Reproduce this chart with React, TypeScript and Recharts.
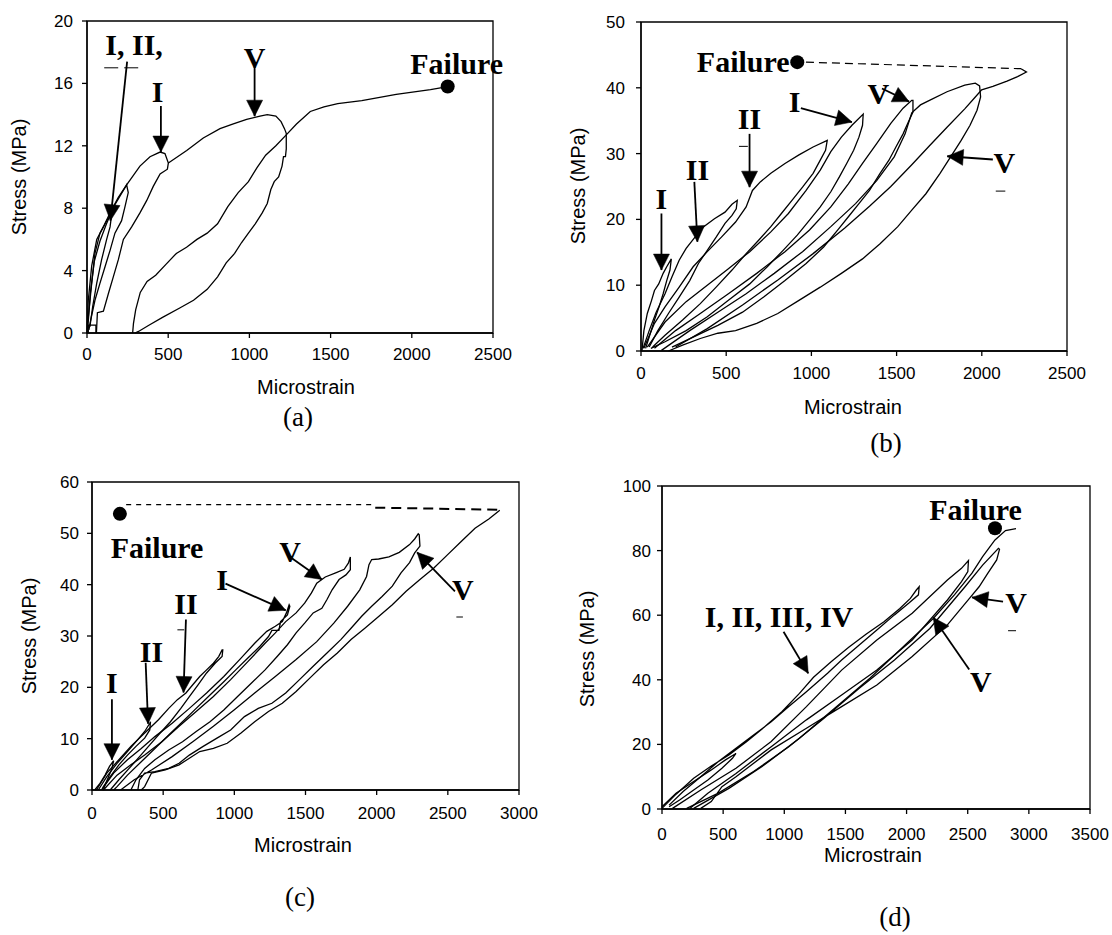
import React from 'react';
import { ComposedChart, Line, XAxis, YAxis, ReferenceArea } from 'recharts';

type Pt = { x: number; y: number };
type Lbl = { x: number; y: number; text: string };
type Seg = { x1: number; y1: number; x2: number; y2: number };

const p = (arr: number[][]): Pt[] => arr.map(([x, y]) => ({ x, y }));

// ---------------- (a) ----------------
const aXTicks = [0, 500, 1000, 1500, 2000, 2500];
const aYTicks = [0, 4, 8, 12, 16, 20];
const aCycle1 = p([[8,1.0],[29,3.2],[49,5.1],[80,6.4],[121,7.2],[152,7.6],[142,6.8],[121,6.0],[90,4.7],[60,3.2],[35,1.7],[18,0.4]]);
const aCycle2 = p([[5,0.3],[20,2.5],[45,4.6],[80,5.9],[120,7.0],[170,8.2],[210,8.9],[244,9.5],[254,9.0],[234,8.1],[213,7.2],[172,6.4],[142,5.3],[111,4.25],[80,3.2],[49,2.1],[23,0.85],[12,0.2]]);
const aCycle3 = p([[0,0],[8,2.1],[29,4.3],[60,6.0],[101,6.8],[142,7.7],[193,8.7],[244,9.5],[326,10.7],[388,11.3],[450,11.6],[480,11.5],[501,10.9],[495,10.5],[450,10.2],[408,9.4],[368,8.5],[326,7.7],[275,6.8],[224,6.0],[193,4.7],[162,3.6],[131,2.5],[101,1.4],[64,1.3],[58,0]]);
const aCycle4 = p([[501,10.9],[614,11.7],[716,12.5],[819,13.1],[901,13.4],[983,13.7],[1065,13.9],[1110,14.0],[1163,13.9],[1195,13.55],[1216,13.1],[1227,12.8],[1227,11.8],[1222,11.3],[1210,11.3],[1201,10.7],[1180,10.0],[1153,9.7],[1132,9.2],[1110,8.3],[1079,7.7],[1036,7.0],[994,6.4],[952,5.8],[909,5.1],[857,4.5],[804,3.6],[740,2.8],[656,2.1],[571,1.6],[465,1.0],[381,0.5],[317,0.1],[296,0]]);
const aFinal = p([[281,0],[286,0.6],[300,1.5],[328,2.6],[370,3.3],[423,3.7],[486,4.4],[550,5.1],[613,5.5],[677,6.0],[740,6.4],[804,7.0],[867,8.1],[931,9.0],[994,9.7],[1047,10.6],[1100,11.4],[1163,12.0],[1227,12.7],[1290,13.4],[1375,14.2],[1459,14.5],[1544,14.7],[1692,14.9],[1904,15.3],[2115,15.6],[2221,15.8]]);
const aStep = p([[8,0],[8,0.5],[55,0.5],[55,0]]);
const aLabels: Lbl[] = [
  { x: 290, y: 17.8, text: 'I, II,' },
  { x: 434, y: 14.8, text: 'I' },
  { x: 1032, y: 17.0, text: 'V' },
  { x: 2276, y: 16.6, text: 'Failure' },
];
const aArrows: Seg[] = [
  { x1: 247, y1: 17.4, x2: 144, y2: 7.2 },
  { x1: 455, y1: 14.55, x2: 455, y2: 11.6 },
  { x1: 1032, y1: 17.1, x2: 1032, y2: 13.9 },
];
const aDashes: Seg[] = [{ x1: 106, y1: 17.0, x2: 328, y2: 17.0 }];
const aFailure: Pt = { x: 2221, y: 15.8 };

// ---------------- (b) ----------------
const bXTicks = [0, 500, 1000, 1500, 2000, 2500];
const bYTicks = [0, 10, 20, 30, 40, 50];
const bCycle1 = p([[6,0.1],[17,3.1],[37,5.7],[62,7.7],[79,9.2],[104,10.2],[130,11.8],[151,12.8],[178,14.0],[170,12.3],[151,10.7],[130,8.7],[106,6.7],[79,4.7],[48,2.1],[27,0.4]]);
const bCycle2 = p([[12,0.4],[48,3.1],[89,5.9],[141,8.7],[182,11.3],[224,13.8],[265,15.6],[317,17.3],[368,18.9],[431,20.1],[493,21.1],[534,22.3],[565,22.9],[559,21.6],[534,20.6],[493,19.4],[441,17.3],[389,15.3],[337,13.3],[286,10.7],[224,8.2],[161,5.7],[99,3.1],[48,0.6]]);
const bCycle3 = p([[17,0.4],[79,4.2],[141,6.7],[224,9.7],[306,12.8],[389,15.1],[472,17.3],[555,19.6],[617,21.9],[654,24.4],[700,25.7],[762,27.0],[845,28.5],[927,29.8],[1010,31.0],[1093,32.0],[1083,30.5],[1052,29.0],[1010,27.0],[948,24.9],[886,22.9],[824,20.9],[762,18.9],[689,16.8],[617,14.8],[534,12.3],[441,9.7],[348,7.2],[244,4.7],[141,2.4],[68,0.6]]);
const bCycle4 = p([[37,0.6],[141,4.4],[265,7.5],[389,10.0],[513,12.5],[638,15.1],[762,18.1],[865,20.9],[969,24.4],[1052,27.5],[1114,30.3],[1176,32.5],[1238,34.3],[1304,36.0],[1300,34.3],[1279,32.5],[1248,30.5],[1207,28.5],[1165,26.5],[1114,24.2],[1052,21.9],[989,19.9],[917,17.6],[834,15.3],[741,12.8],[638,10.2],[513,7.7],[389,5.2],[265,3.1],[141,1.4],[58,0.4]]);
const bCycle5 = p([[79,0.4],[203,3.1],[348,5.7],[513,8.7],[679,11.8],[845,15.1],[989,18.4],[1114,21.9],[1217,25.4],[1300,28.5],[1383,31.5],[1466,34.6],[1538,36.9],[1589,38.1],[1596,38.1],[1596,36.3],[1569,34.8],[1538,33.0],[1496,31.0],[1455,29.0],[1403,27.0],[1341,24.4],[1279,22.4],[1217,20.4],[1155,18.4],[1072,15.8],[969,13.3],[845,10.7],[720,8.2],[596,5.9],[451,3.9],[306,2.1],[182,0.6]]);
const bCycle6 = p([[120,0.1],[286,3.1],[451,5.9],[617,8.7],[782,11.8],[948,15.1],[1114,18.9],[1259,22.4],[1383,25.9],[1486,29.5],[1550,33.0],[1589,36.2],[1640,37.4],[1693,38.1],[1796,39.4],[1900,40.4],[1962,40.7],[1987,40.3],[1993,38.6],[1972,36.6],[1931,34.3],[1879,32.0],[1817,29.5],[1755,27.0],[1672,23.9],[1589,21.4],[1507,18.9],[1403,16.3],[1300,14.0],[1176,11.8],[1052,9.7],[927,7.7],[803,5.7],[679,4.2],[555,3.1],[451,2.7],[348,1.9],[244,0.9],[161,0]]);
const bFinal = p([[203,0.6],[389,3.4],[596,7.0],[803,10.8],[1010,14.8],[1196,18.7],[1341,22.0],[1466,25.0],[1589,28.3],[1693,31.2],[1796,34.0],[1900,36.8],[1962,38.6],[1999,39.7],[2065,40.2],[2148,41.0],[2210,41.7],[2262,42.4],[2230,42.9]]);
const bLabels: Lbl[] = [
  { x: 600, y: 42.4, text: 'Failure' },
  { x: 120, y: 21.6, text: 'I' },
  { x: 331, y: 26.0, text: 'II' },
  { x: 637, y: 33.7, text: 'II' },
  { x: 902, y: 36.3, text: 'I' },
  { x: 1393, y: 37.6, text: 'V' },
  { x: 2132, y: 27.0, text: 'V' },
];
const bArrows: Seg[] = [
  { x1: 120, y1: 20.9, x2: 120, y2: 12.3 },
  { x1: 313, y1: 25.7, x2: 331, y2: 16.6 },
  { x1: 637, y1: 33.0, x2: 637, y2: 24.9 },
  { x1: 938, y1: 36.9, x2: 1238, y2: 34.8 },
  { x1: 1414, y1: 39.9, x2: 1573, y2: 37.9 },
  { x1: 2065, y1: 29.1, x2: 1797, y2: 29.6 },
];
const bMarks: Seg[] = [
  { x1: 575, y1: 31.1, x2: 627, y2: 31.1 },
  { x1: 2082, y1: 24.3, x2: 2138, y2: 24.3 },
];
const bDashes: Seg[] = [{ x1: 968, y1: 43.9, x2: 2230, y2: 42.9 }];
const bFailure: Pt = { x: 917, y: 43.9 };

// ---------------- (c) ----------------
const cXTicks = [0, 500, 1000, 1500, 2000, 2500, 3000];
const cYTicks = [0, 10, 20, 30, 40, 50, 60];
const cCycle1 = p([[19,0],[56,1.3],[92,2.9],[123,4.6],[152,5.7],[140,4.2],[116,2.6],[92,1.0],[80,0]]);
const cCycle2 = p([[44,0],[104,2.6],[176,5.2],[249,7.5],[322,9.8],[370,11.4],[406,13.0],[411,13.3],[406,11.7],[370,10.1],[309,8.5],[249,6.8],[189,4.9],[128,2.6],[80,0.65],[68,0]]);
const cCycle3 = p([[31,0],[104,3.3],[189,5.9],[273,8.5],[370,11.1],[467,13.7],[539,15.9],[600,17.6],[660,18.9],[708,20.5],[757,22.1],[805,23.4],[853,24.7],[890,26.0],[914,27.3],[919,27.3],[914,26.0],[865,24.7],[805,22.8],[745,20.5],[684,18.2],[624,15.9],[551,13.3],[479,11.1],[406,8.8],[334,6.5],[261,4.2],[189,2.0],[128,0]]);
const cCycle4 = p([[68,0],[152,3.3],[249,5.9],[346,8.1],[442,10.4],[563,13.0],[684,15.9],[805,18.9],[926,22.1],[1047,25.7],[1143,28.6],[1228,30.9],[1288,31.9],[1337,32.8],[1366,34.5],[1385,36.1],[1390,35.8],[1373,34.1],[1325,32.8],[1313,31.1],[1264,31.1],[1240,29.9],[1180,28.0],[1095,25.7],[1010,23.4],[926,21.1],[829,18.5],[732,15.9],[636,13.3],[539,10.7],[442,8.1],[346,5.5],[249,2.9],[176,0.65],[152,0]]);
const cCycle5 = p([[80,0],[176,2.9],[273,4.9],[370,6.8],[491,9.4],[612,12.4],[732,15.3],[853,18.2],[974,21.5],[1095,25.0],[1216,28.6],[1288,30.6],[1361,32.8],[1434,34.5],[1494,36.4],[1542,38.4],[1579,40.3],[1639,41.5],[1712,42.3],[1772,43.0],[1801,44.2],[1815,45.4],[1815,42.9],[1784,41.9],[1736,41.0],[1687,39.0],[1651,37.1],[1615,35.4],[1554,34.5],[1494,32.5],[1434,30.6],[1373,28.3],[1301,26.0],[1216,23.4],[1119,20.8],[1023,18.2],[926,15.6],[829,13.3],[732,11.4],[636,9.4],[539,7.8],[442,5.9],[370,4.2],[309,2.0],[273,0]]);
const cCycle6 = p([[201,0],[297,2.0],[418,3.9],[563,6.5],[708,9.4],[853,12.4],[998,15.6],[1143,18.9],[1288,22.1],[1434,25.4],[1579,28.9],[1699,32.5],[1796,35.8],[1881,39.0],[1929,41.6],[1946,43.9],[1965,44.9],[2014,45.0],[2086,45.4],[2159,46.3],[2231,47.8],[2267,48.9],[2292,49.9],[2299,49.7],[2304,47.5],[2267,46.2],[2231,44.3],[2171,42.3],[2110,39.7],[2038,37.7],[1965,35.8],[1893,33.8],[1820,31.5],[1748,29.3],[1651,26.7],[1554,24.1],[1458,21.5],[1361,18.9],[1264,16.9],[1168,15.9],[1071,14.3],[974,11.7],[878,10.1],[781,8.5],[684,6.8],[612,5.2],[539,4.2],[442,3.6],[370,3.3],[334,2.0],[322,0]]);
const cFinal = p([[346,0],[370,0.65],[418,3.3],[515,3.9],[612,4.9],[684,6.2],[757,7.5],[853,8.1],[950,9.1],[1047,11.1],[1143,13.3],[1240,15.3],[1337,16.9],[1434,19.2],[1530,21.8],[1627,24.4],[1724,26.7],[1820,29.3],[1917,31.5],[2014,33.8],[2110,36.1],[2207,38.7],[2304,41.0],[2400,43.2],[2497,45.8],[2594,48.4],[2691,51.0],[2788,52.8],[2865,54.5]]);
const cLabels: Lbl[] = [
  { x: 457, y: 45.2, text: 'Failure' },
  { x: 140, y: 18.9, text: 'I' },
  { x: 418, y: 25.0, text: 'II' },
  { x: 660, y: 34.3, text: 'II' },
  { x: 914, y: 39.0, text: 'I' },
  { x: 1392, y: 44.5, text: 'V' },
  { x: 2606, y: 37.1, text: 'V' },
];
const cArrows: Seg[] = [
  { x1: 140, y1: 17.7, x2: 140, y2: 5.9 },
  { x1: 377, y1: 24.8, x2: 394, y2: 12.9 },
  { x1: 660, y1: 33.2, x2: 643, y2: 19.0 },
  { x1: 938, y1: 40.2, x2: 1361, y2: 35.0 },
  { x1: 1392, y1: 45.4, x2: 1615, y2: 41.0 },
  { x1: 2550, y1: 38.7, x2: 2284, y2: 46.3 },
];
const cMarks: Seg[] = [
  { x1: 600, y1: 31.2, x2: 648, y2: 31.2 },
  { x1: 2560, y1: 33.7, x2: 2606, y2: 33.7 },
];
const cDashes: Seg[] = [
  { x1: 240, y1: 55.6, x2: 1965, y2: 55.6 },
  { x1: 1990, y1: 55.0, x2: 2865, y2: 54.6 },
];
const cFailure: Pt = { x: 196, y: 53.8 };

// ---------------- (d) ----------------
const dXTicks = [0, 500, 1000, 1500, 2000, 2500, 3000, 3500];
const dYTicks = [0, 20, 40, 60, 80, 100];
const dCycle1 = p([[0,0.7],[115,4.9],[259,8.5],[403,12.1],[519,15.2],[605,17.2],[576,15.7],[490,12.6],[375,9.0],[259,5.9],[144,2.8],[58,0.7]]);
const dCycle2 = p([[0,0.2],[115,4.6],[259,9.5],[403,13.3],[547,16.7],[691,20.8],[835,25.3],[980,30.1],[1124,35.8],[1239,40.8],[1383,45.6],[1527,50.1],[1671,54.2],[1815,58.0],[1945,62.1],[2031,65.2],[2080,67.8],[2103,68.8],[2097,66.3],[2017,63.7],[1901,60.1],[1757,55.4],[1613,50.8],[1469,46.1],[1354,42.0],[1181,36.3],[1037,31.7],[893,27.0],[749,22.9],[605,18.8],[461,14.7],[317,10.0],[173,5.4],[58,1.2]]);
const dCycle3 = p([[86,0.2],[317,5.9],[605,12.6],[893,20.9],[1181,31.7],[1469,43.0],[1757,52.3],[2046,60.6],[2334,70.9],[2449,74.5],[2506,76.9],[2501,73.5],[2449,70.4],[2334,64.7],[2046,52.3],[1757,43.0],[1469,35.3],[1181,27.6],[893,19.3],[605,11.0],[375,4.9],[230,0.2]]);
const dCycle4 = p([[202,0.2],[461,4.9],[749,11.6],[1037,19.3],[1325,28.1],[1613,37.4],[1901,46.1],[2190,55.9],[2478,68.8],[2622,75.5],[2751,80.7],[2760,80.4],[2737,77.1],[2665,73.0],[2593,68.8],[2521,65.5],[2334,57.0],[2046,47.2],[1757,38.4],[1469,31.7],[1181,25.0],[893,18.3],[605,10.0],[490,6.9],[403,2.3],[317,0.2]]);
const dFinal = p([[259,0.2],[547,6.4],[835,13.6],[1124,21.9],[1412,31.2],[1700,40.5],[1988,50.8],[2218,59.0],[2391,66.3],[2535,73.0],[2622,78.1],[2723,83.3],[2809,86.2],[2895,86.8]]);
const dLabels: Lbl[] = [
  { x: 2564, y: 89.5, text: 'Failure' },
  { x: 957, y: 56.4, text: 'I, II, III, IV' },
  { x: 2895, y: 60.6, text: 'V' },
  { x: 2607, y: 36.3, text: 'V' },
];
const dArrows: Seg[] = [
  { x1: 994, y1: 54.9, x2: 1196, y2: 42.0 },
  { x1: 2789, y1: 64.2, x2: 2535, y2: 65.5 },
  { x1: 2512, y1: 43.2, x2: 2218, y2: 59.3 },
];
const dMarks: Seg[] = [{ x1: 2830, y1: 55.2, x2: 2895, y2: 55.2 }];
const dFailure: Pt = { x: 2723, y: 86.9 };

// ---------------- rendering ----------------
const SERIF = '"Liberation Serif", "Times New Roman", Times, serif';
const SANS = '"Liberation Sans", Arial, Helvetica, sans-serif';

function makeArrowDot(key: string) {
  let prev: { x: number; y: number } | null = null;
  return (props: any) => {
    const { cx, cy, index, points } = props;
    if (index === 0) {
      prev = { x: cx, y: cy };
      return <g key={`${key}-0`} />;
    }
    const start = points && points[0] ? { x: points[0].x, y: points[0].y } : prev;
    if (!start) return <g key={`${key}-1`} />;
    const ang = Math.atan2(cy - start.y, cx - start.x);
    const len = 16;
    const hw = 8;
    const bx = cx - len * Math.cos(ang);
    const by = cy - len * Math.sin(ang);
    const lx = bx + hw * Math.sin(ang);
    const ly = by - hw * Math.cos(ang);
    const rx = bx - hw * Math.sin(ang);
    const ry = by + hw * Math.cos(ang);
    return <polygon key={`${key}-1`} points={`${cx},${cy} ${lx},${ly} ${rx},${ry}`} fill="#000" stroke="#000" strokeWidth={0.5} />;
  };
}

const textDot = (props: any) => {
  const { cx, cy, index, payload } = props;
  return (
    <text key={`t-${index}`} x={cx} y={cy} textAnchor="middle" fontFamily={SERIF} fontWeight="bold" fontSize={30} fill="#000">
      {payload.text}
    </text>
  );
};

type PanelProps = {
  box: { L: number; R: number; T: number; B: number };
  xMax: number;
  yMax: number;
  xTicks: number[];
  yTicks: number[];
  curves: Pt[][];
  arrows: Seg[];
  labels: Lbl[];
  marks: Seg[];
  dashes: { seg: Seg; dash: string; w: number }[];
  failure: Pt;
  xTickMargin: number;
  yTickMargin: number;
  id: string;
};

function Panel(props: PanelProps) {
  const { box, xMax, yMax, xTicks, yTicks, curves, arrows, labels, marks, dashes, failure, xTickMargin, yTickMargin, id } = props;
  const padL = 70, padR = 25, padT = 10, padB = 45;
  const yAxisW = 55, xAxisH = 35;
  const width = box.R - box.L + padL + padR;
  const height = box.B - box.T + padT + padB;
  const tickStyle = { fill: '#000', fontSize: 17, fontFamily: SANS };
  return (
    <div style={{ position: 'absolute', left: box.L - padL, top: box.T - padT, width, height }}>
      <ComposedChart width={width} height={height} margin={{ top: padT, right: padR, left: padL - yAxisW, bottom: padB - xAxisH }}>
        <XAxis
          type="number"
          dataKey="x"
          domain={[0, xMax]}
          ticks={xTicks}
          interval={0}
          tickSize={5}
          tickMargin={xTickMargin}
          height={xAxisH}
          axisLine={{ stroke: '#000', strokeWidth: 1.3 }}
          tickLine={{ stroke: '#000', strokeWidth: 1.3 }}
          tick={tickStyle}
        />
        <YAxis
          type="number"
          domain={[0, yMax]}
          ticks={yTicks}
          interval={0}
          tickSize={5}
          tickMargin={yTickMargin}
          width={yAxisW}
          axisLine={{ stroke: '#000', strokeWidth: 1.3 }}
          tickLine={{ stroke: '#000', strokeWidth: 1.3 }}
          tick={tickStyle}
        />
        <ReferenceArea x1={0} x2={xMax} y1={0} y2={yMax} fill="none" fillOpacity={0} stroke="#000" strokeWidth={1.3} ifOverflow="visible" />
        {curves.map((c, i) => (
          <Line key={`${id}-c${i}`} data={c} dataKey="y" stroke="#000" strokeWidth={1.3} dot={false} activeDot={false} isAnimationActive={false} />
        ))}
        {dashes.map((d, i) => (
          <Line
            key={`${id}-d${i}`}
            data={[{ x: d.seg.x1, y: d.seg.y1 }, { x: d.seg.x2, y: d.seg.y2 }]}
            dataKey="y"
            stroke="#000"
            strokeWidth={d.w}
            strokeDasharray={d.dash}
            dot={false}
            activeDot={false}
            isAnimationActive={false}
          />
        ))}
        {marks.map((m, i) => (
          <Line
            key={`${id}-m${i}`}
            data={[{ x: m.x1, y: m.y1 }, { x: m.x2, y: m.y2 }]}
            dataKey="y"
            stroke="#000"
            strokeWidth={1}
            dot={false}
            activeDot={false}
            isAnimationActive={false}
          />
        ))}
        {arrows.map((a, i) => (
          <Line
            key={`${id}-a${i}`}
            data={[{ x: a.x1, y: a.y1 }, { x: a.x2, y: a.y2 }]}
            dataKey="y"
            stroke="#000"
            strokeWidth={1.8}
            dot={makeArrowDot(`${id}-a${i}`)}
            activeDot={false}
            isAnimationActive={false}
          />
        ))}
        <Line key={`${id}-lbl`} data={labels} dataKey="y" stroke="none" dot={textDot} activeDot={false} isAnimationActive={false} />
        <Line
          key={`${id}-fail`}
          data={[failure]}
          dataKey="y"
          stroke="none"
          dot={{ r: 7, fill: '#000', stroke: '#000', strokeWidth: 0 }}
          activeDot={false}
          isAnimationActive={false}
        />
      </ComposedChart>
    </div>
  );
}

const titles = [
  { x: 19, y: 177, text: 'Stress (MPa)', rot: true },
  { x: 306, y: 387, text: 'Microstrain', rot: false },
  { x: 578, y: 186, text: 'Stress (MPa)', rot: true },
  { x: 853, y: 407, text: 'Microstrain', rot: false },
  { x: 29, y: 636, text: 'Stress (MPa)', rot: true },
  { x: 303, y: 845, text: 'Microstrain', rot: false },
  { x: 587, y: 649, text: 'Stress (MPa)', rot: true },
  { x: 873, y: 855, text: 'Microstrain', rot: false },
];
const captions = [
  { x: 298, y: 417, text: '(a)' },
  { x: 886, y: 443, text: '(b)' },
  { x: 300, y: 897, text: '(c)' },
  { x: 895, y: 917, text: '(d)' },
];

export default function App() {
  return (
    <div style={{ position: 'absolute', left: 0, top: 0, width: 1112, height: 935, overflow: 'hidden', background: '#fff' }}>
      <Panel
        id="a"
        box={{ L: 87, R: 493, T: 21, B: 333 }}
        xMax={2500}
        yMax={20}
        xTicks={aXTicks}
        yTicks={aYTicks}
        curves={[aCycle1, aCycle2, aCycle3, aCycle4, aFinal, aStep]}
        arrows={aArrows}
        labels={aLabels}
        marks={[]}
        dashes={aDashes.map((s) => ({ seg: s, dash: '14 6', w: 1 }))}
        failure={aFailure}
        xTickMargin={10}
        yTickMargin={9}
      />
      <Panel
        id="b"
        box={{ L: 641, R: 1067, T: 22, B: 351 }}
        xMax={2500}
        yMax={50}
        xTicks={bXTicks}
        yTicks={bYTicks}
        curves={[bCycle1, bCycle2, bCycle3, bCycle4, bCycle5, bCycle6, bFinal]}
        arrows={bArrows}
        labels={bLabels}
        marks={bMarks}
        dashes={bDashes.map((s) => ({ seg: s, dash: '8 5', w: 1.2 }))}
        failure={bFailure}
        xTickMargin={11}
        yTickMargin={11}
      />
      <Panel
        id="c"
        box={{ L: 92, R: 519, T: 482, B: 790 }}
        xMax={3000}
        yMax={60}
        xTicks={cXTicks}
        yTicks={cYTicks}
        curves={[cCycle1, cCycle2, cCycle3, cCycle4, cCycle5, cCycle6, cFinal]}
        arrows={cArrows}
        labels={cLabels}
        marks={cMarks}
        dashes={[
          { seg: cDashes[0], dash: '5 5', w: 1.3 },
          { seg: cDashes[1], dash: '10 6', w: 2 },
        ]}
        failure={cFailure}
        xTickMargin={12}
        yTickMargin={8}
      />
      <Panel
        id="d"
        box={{ L: 662, R: 1090, T: 486, B: 809 }}
        xMax={3500}
        yMax={100}
        xTicks={dXTicks}
        yTicks={dYTicks}
        curves={[dCycle1, dCycle2, dCycle3, dCycle4, dFinal]}
        arrows={dArrows}
        labels={dLabels}
        marks={dMarks}
        dashes={[]}
        failure={dFailure}
        xTickMargin={14}
        yTickMargin={6}
      />
      <svg width={1112} height={935} style={{ position: 'absolute', left: 0, top: 0, pointerEvents: 'none' }}>
        {titles.map((t, i) => (
          <text
            key={`ti${i}`}
            x={t.x}
            y={t.y}
            textAnchor="middle"
            dominantBaseline="central"
            fontFamily={SANS}
            fontSize={20}
            fill="#000"
            transform={t.rot ? `rotate(-90 ${t.x} ${t.y})` : undefined}
          >
            {t.text}
          </text>
        ))}
        {captions.map((c, i) => (
          <text key={`ca${i}`} x={c.x} y={c.y} textAnchor="middle" dominantBaseline="central" fontFamily={SERIF} fontSize={27} fill="#000">
            {c.text}
          </text>
        ))}
      </svg>
    </div>
  );
}
